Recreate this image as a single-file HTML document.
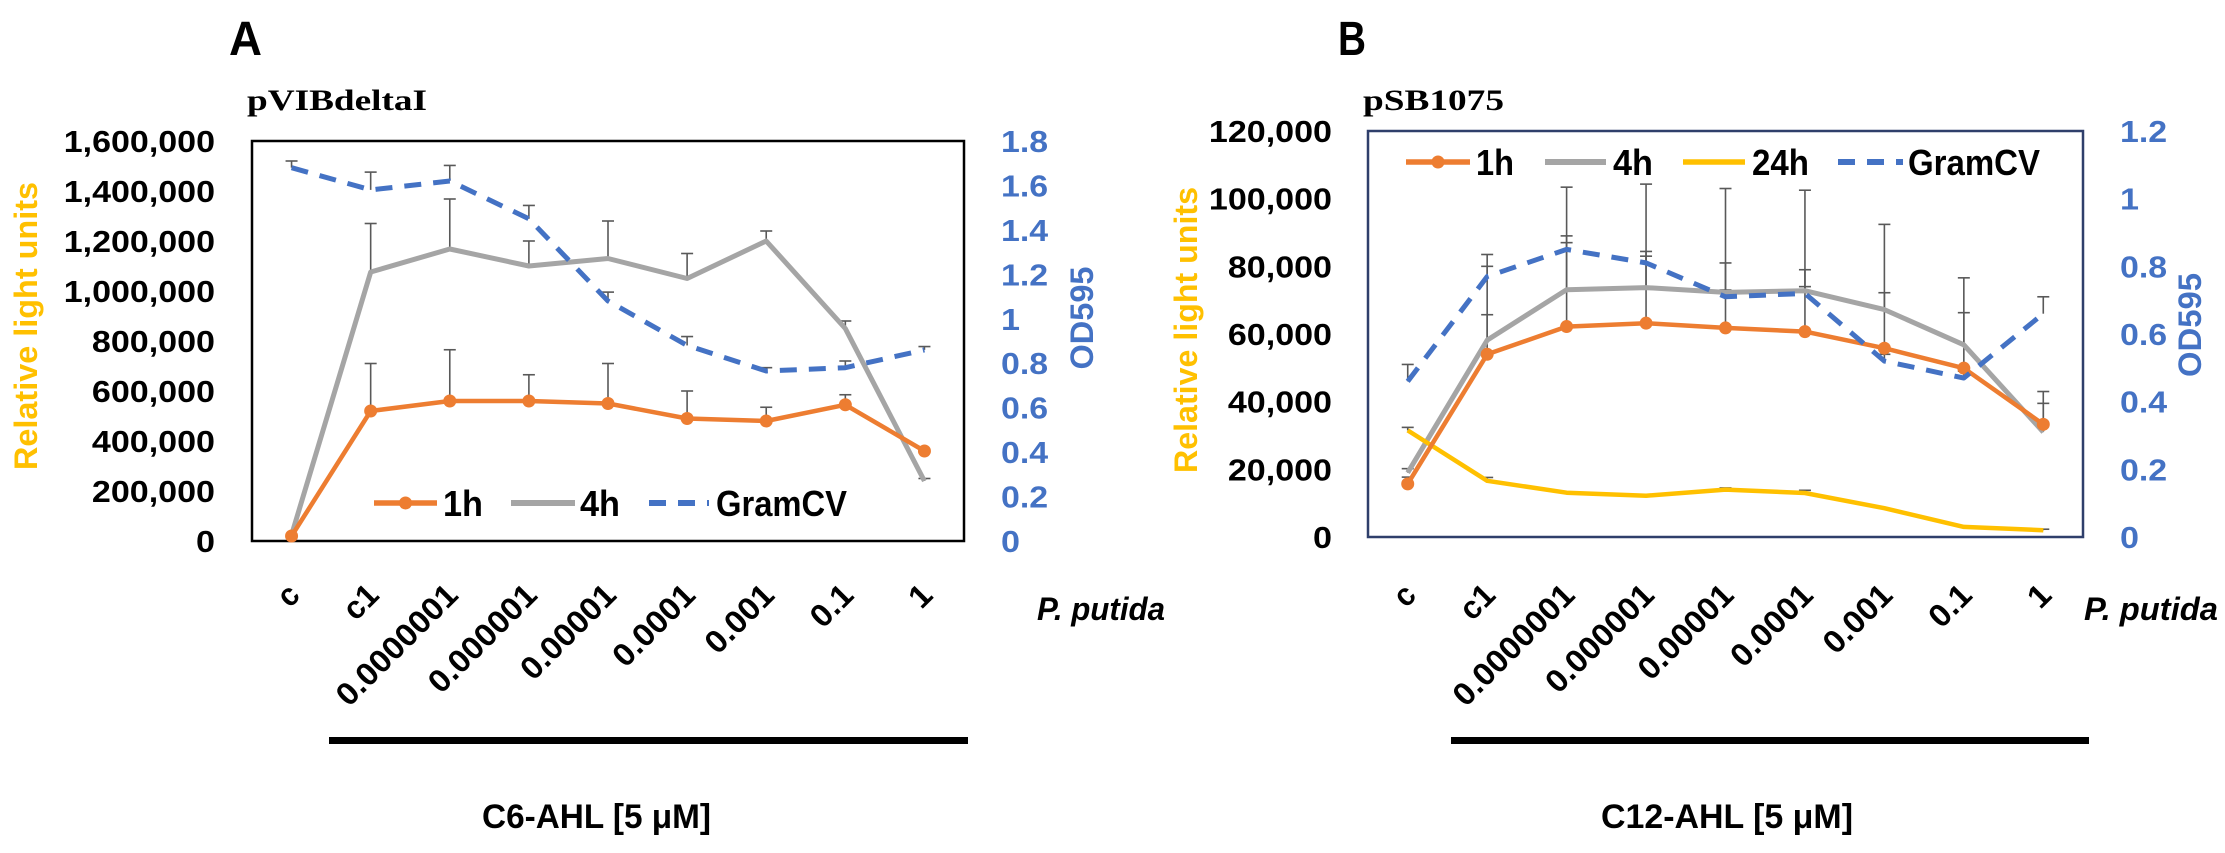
<!DOCTYPE html>
<html><head><meta charset="utf-8"><style>
html,body{margin:0;padding:0;background:#fff;}
svg{display:block;font-family:"Liberation Sans",sans-serif;font-weight:bold;}
</style></head><body>
<svg id="fig" width="2225" height="853" viewBox="0 0 2225 853" xmlns="http://www.w3.org/2000/svg"></svg>
<script>
var categories = ["c","c1","0.0000001","0.000001","0.00001","0.0001","0.001","0.1","1"];
// Panel A data
var a1h = [20000,520000,560000,560000,550000,490000,480000,545000,360000];
var a1hErr = [0,190000,205000,105000,160000,110000,55000,40000,0];
var a4h = [25000,1076000,1168000,1100000,1130000,1050000,1200000,850000,240000];
var a4hErr = [0,194000,200000,100000,150000,100000,40000,30000,10000];
var aGram = [1.68,1.58,1.62,1.45,1.08,0.88,0.765,0.78,0.86];
var aGramErr = [0.03,0.08,0.07,0.06,0.04,0.04,0.015,0.03,0.015];
var aLeftTicks = ["0","200,000","400,000","600,000","800,000","1,000,000","1,200,000","1,400,000","1,600,000"];
var aRightTicks = ["0","0.2","0.4","0.6","0.8","1","1.2","1.4","1.6","1.8"];
// Panel B data
var b1h = [15700,54000,62200,63200,61800,60700,55800,49900,33300];
var b1hErr = [2000,11700,26800,21200,19200,18300,16400,16400,9700];
var b4h = [19000,58200,73100,73700,72300,72800,67200,56800,31000];
var b4hErr = [1200,25300,30300,30600,30700,29700,25200,19800,8500];
var b24h = [31500,16600,13100,12200,14000,13000,8500,3000,2000];
var b24hErr = [900,1000,0,0,500,800,0,0,300];
var bGram = [0.46,0.77,0.85,0.81,0.71,0.72,0.52,0.47,0.66];
var bGramErr = [0.05,0.03,0.02,0.02,0.02,0.02,0.02,0.02,0.05];
var bLeftTicks = ["0","20,000","40,000","60,000","80,000","100,000","120,000"];
var bRightTicks = ["0","0.2","0.4","0.6","0.8","1","1.2"];

var NS = "http://www.w3.org/2000/svg";
var svg = document.getElementById("fig");
function mk(tag, attrs, parent, name) {
  var el = document.createElementNS(NS, tag);
  for (var k in attrs) el.setAttribute(k, attrs[k]);
  
  
  (parent || svg).appendChild(el);
  return el;
}
function txt(x, y, s, size, len, anchor, fill, name, extra) {
  var a = {x:x, y:y, "font-size":size, "text-anchor":anchor||"start", fill:fill||"#000"};
  if (len) { a.textLength = len; a.lengthAdjust = "spacingAndGlyphs"; }
  if (extra) for (var k in extra) a[k] = extra[k];
  var t = mk("text", a, svg, name);
  t.textContent = s;
  return t;
}
function estLen(s, dw) {
  var L = 0;
  for (var i = 0; i < s.length; i++) { var c = s[i]; L += (c === "." || c === ",") ? dw*0.48 : (c === "c" ? dw*0.9 : dw); }
  return L;
}
var COL = {o:"#ED7D31", g:"#A5A5A5", y:"#FFC000", b:"#4472C4"};

function panel(p) {
  var W = p.right - p.left, step = W / categories.length;
  function xs(i) { return p.left + step * (i + 0.5); }
  function yL(v) { return p.bottom - (v / p.lmax) * (p.bottom - p.top); }
  function yR(v) { return p.bottom - (v / p.rmax) * (p.bottom - p.top); }
  mk("rect", {x:p.left, y:p.top, width:W, height:p.bottom-p.top, fill:"none", stroke:p.frame, "stroke-width":2.5}, svg, p.id+"-plot-frame");
  p.lticks.forEach(function(t, i) {
    var v = i * p.lmax / (p.lticks.length - 1);
    txt(p.lx, yL(v) + 11, t, 31, estLen(t, 19), "end", "#000", p.id+"-left-tick-label");
  });
  p.rticks.forEach(function(t, i) {
    var v = i * p.rmax / (p.rticks.length - 1);
    txt(p.rx, yR(v) + 11, t, 31, estLen(t, 19), "start", COL.b, p.id+"-right-tick-label");
  });
  categories.forEach(function(c, i) {
    var ax = xs(i) + 10, ay = 597;
    txt(ax, ay, c, 32, estLen(c, 18.5), "end", "#000", p.id+"-x-tick-label", {transform:"rotate(-45 "+ax+" "+ay+")"});
  });
  function errs(vals, e, yf, name) {
    vals.forEach(function(v, i) {
      if (!e[i]) return;
      var x = xs(i), y0 = yf(v), y1 = yf(v + e[i]);
      mk("line", {x1:x, y1:y0, x2:x, y2:y1, stroke:"#595959", "stroke-width":1.6}, svg, name);
      mk("line", {x1:x-6, y1:y1, x2:x+6, y2:y1, stroke:"#595959", "stroke-width":1.6}, svg, name+"-cap");
    });
  }
  function line(vals, yf, color, w, dash, name) {
    var d = vals.map(function(v, i) { return (i ? "L" : "M") + xs(i).toFixed(1) + " " + yf(v).toFixed(1); }).join(" ");
    var a = {d:d, fill:"none", stroke:color, "stroke-width":w, "stroke-linejoin":"round"};
    if (dash) a["stroke-dasharray"] = dash;
    mk("path", a, svg, name);
  }
  p.series.forEach(function(s) {
    var yf = s.right ? yR : yL;
    errs(s.vals, s.err, yf, p.id+"-"+s.key+"-error-bar");
  });
  p.series.forEach(function(s) {
    var yf = s.right ? yR : yL;
    line(s.vals, yf, s.color, s.w, s.dash, p.id+"-"+s.key+"-line");
    if (s.marker) s.vals.forEach(function(v, i) {
      mk("circle", {cx:xs(i), cy:yf(v), r:6.5, fill:s.color}, svg, p.id+"-"+s.key+"-point");
    });
  });
  p.legend.forEach(function(l) {
    var s = l.s;
    var a = {x1:l.x1, y1:p.legY, x2:l.x2, y2:p.legY, stroke:s.color, "stroke-width":s.w+1};
    if (s.dash) a["stroke-dasharray"] = s.dash;
    mk("line", a, svg, p.id+"-legend-"+s.key+"-swatch");
    if (s.marker) mk("circle", {cx:(l.x1+l.x2)/2, cy:p.legY, r:6.5, fill:s.color}, svg, p.id+"-legend-"+s.key+"-marker");
    txt(l.tx, p.legY + 13, l.label, 36, l.tw, "start", "#000", p.id+"-legend-"+s.key+"-label");
  });
}

var sA1 = {key:"1h", vals:a1h, err:a1hErr, color:COL.o, w:4.5, marker:true};
var sA4 = {key:"4h", vals:a4h, err:a4hErr, color:COL.g, w:5};
var sAG = {key:"gramcv", vals:aGram, err:aGramErr, color:COL.b, w:5, dash:"17 12", right:true};
panel({id:"a", left:252, right:964, top:141, bottom:541, lmax:1600000, rmax:1.8, frame:"#000",
  lticks:aLeftTicks, rticks:aRightTicks, lx:215, rx:1001,
  series:[sA4, sA1, sAG], legY:503,
  legend:[{s:sA1,x1:374,x2:437,tx:443,tw:40,label:"1h"},{s:sA4,x1:511,x2:575,tx:580,tw:40,label:"4h"},{s:sAG,x1:649,x2:709,tx:716,tw:131,label:"GramCV"}]});

var sB1 = {key:"1h", vals:b1h, err:b1hErr, color:COL.o, w:4.5, marker:true};
var sB4 = {key:"4h", vals:b4h, err:b4hErr, color:COL.g, w:5};
var sB24 = {key:"24h", vals:b24h, err:b24hErr, color:COL.y, w:4.5};
var sBG = {key:"gramcv", vals:bGram, err:bGramErr, color:COL.b, w:5, dash:"17 12", right:true};
panel({id:"b", left:1368, right:2083, top:131, bottom:537, lmax:120000, rmax:1.2, frame:"#2F3F6B",
  lticks:bLeftTicks, rticks:bRightTicks, lx:1332, rx:2120,
  series:[sB4, sB24, sB1, sBG], legY:162,
  legend:[{s:sB1,x1:1406,x2:1470,tx:1476,tw:38,label:"1h"},{s:sB4,x1:1545,x2:1606,tx:1613,tw:40,label:"4h"},{s:sB24,x1:1683,x2:1745,tx:1752,tw:57,label:"24h"},{s:sBG,x1:1838,x2:1903,tx:1908,tw:132,label:"GramCV"}]});

txt(229, 55, "A", 48, 33, "start", "#000", "panel-a-letter");
txt(1338, 55, "B", 48, 28, "start", "#000", "panel-b-letter");
txt(247, 110, "pVIBdeltaI", 30, 180, "start", "#000", "panel-a-subtitle", {"font-family":"Liberation Serif, serif"});
txt(1363, 110, "pSB1075", 30, 141, "start", "#000", "panel-b-subtitle", {"font-family":"Liberation Serif, serif"});
txt(0, 0, "Relative light units", 32, 288, "middle", COL.y, "a-left-axis-title", {transform:"translate(37 326) rotate(-90)"});
txt(0, 0, "Relative light units", 32, 286, "middle", COL.y, "b-left-axis-title", {transform:"translate(1197 330) rotate(-90)"});
txt(0, 0, "OD595", 32, 103, "middle", COL.b, "a-right-axis-title", {transform:"translate(1093 318) rotate(-90)"});
txt(0, 0, "OD595", 32, 104, "middle", COL.b, "b-right-axis-title", {transform:"translate(2201 325) rotate(-90)"});
txt(1037, 620, "P. putida", 32, 128, "start", "#000", "a-p-putida-label", {"font-style":"italic"});
txt(2084, 620, "P. putida", 32, 134, "start", "#000", "b-p-putida-label", {"font-style":"italic"});
mk("rect", {x:329, y:737, width:639, height:7, fill:"#000"}, svg, "a-treatment-bar");
mk("rect", {x:1451, y:737, width:638, height:7, fill:"#000"}, svg, "b-treatment-bar");
txt(482, 828, "C6-AHL [5 μM]", 34, 229, "start", "#000", "a-treatment-label", {"font-family":"Liberation Sans, DejaVu Sans, sans-serif"});
txt(1601, 828, "C12-AHL [5 μM]", 34, 252, "start", "#000", "b-treatment-label", {"font-family":"Liberation Sans, DejaVu Sans, sans-serif"});
</script>
</body></html>
